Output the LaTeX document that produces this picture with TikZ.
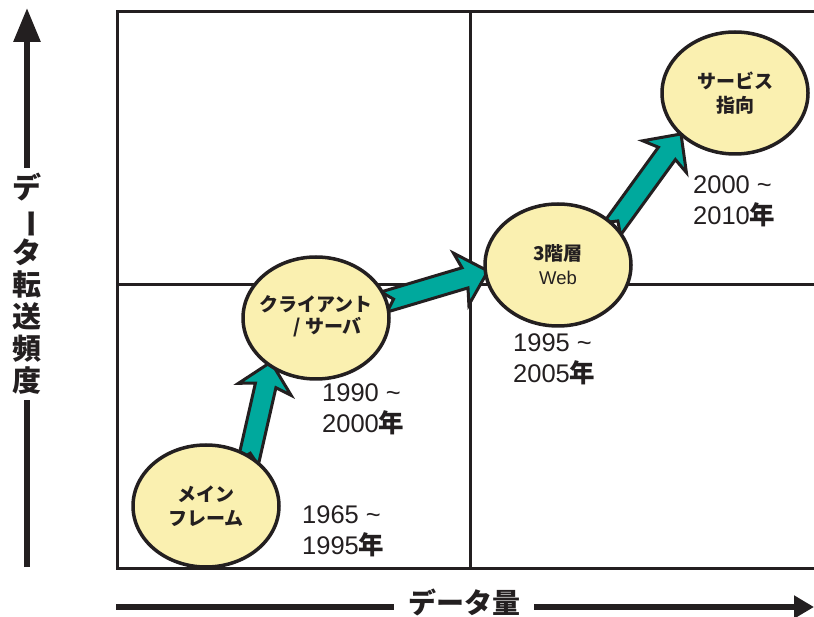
\documentclass[tikz,border=0pt]{standalone}
\usepackage{fontspec}
\usepackage{graphicx}
\setmainfont{Liberation Sans}
\newfontfamily\jp{Noto Sans CJK JP}
\usetikzlibrary{calc,shapes.geometric,arrows.meta}
\definecolor{tealfill}{RGB}{0,169,157}
\definecolor{ellfill}{RGB}{250,240,176}
\definecolor{ink}{RGB}{35,31,32}
\tikzset{
  ell/.style={ellipse, draw=ink, line width=3.5pt, fill=ellfill, minimum width=146pt, minimum height=122pt, inner sep=-14pt, align=center, font=\jp\bfseries\fontsize{19}{24}\selectfont, text=ink},
  fat/.style={draw=ink, line width=3pt, fill=tealfill, line join=miter},
  yr/.style={anchor=north west, align=left, inner sep=0pt, font=\fontsize{25.5}{31}\selectfont, text=ink},
  gridline/.style={draw=ink, line width=3pt},
  axisline/.style={draw=ink, line width=6pt},
  axlabel/.style={font=\jp\bfseries\fontsize{29}{32}\selectfont, text=ink, fill=white, align=center}
}
\def\sw{10.5pt}\def\hw{27pt}\def\hl{28pt}\def\nk{24pt}\def\nd{10pt}
\newcommand\fatarr[2]{%
  \filldraw[fat] ($(#1)!\sw!90:(#2)$) -- ($(#2)!\nk!(#1)!\sw!-90:(#1)$) -- ($(#2)!\hl!(#1)!\hw!-90:(#1)$) -- (#2)
    -- ($(#2)!\hl!(#1)!\hw!90:(#1)$) -- ($(#2)!\nk!(#1)!\sw!90:(#1)$) -- ($(#1)!\sw!-90:(#2)$) -- ($(#1)!\nd!(#2)$) -- cycle;}
\newcommand\yrsym{\jp\bfseries 年}
\begin{document}
\begin{tikzpicture}[x=1pt,y=-1pt]
\useasboundingbox (0,0) rectangle (814,617);
% grid
\coordinate (tl) at (117,12);
\coordinate (tr) at (814,12);
\coordinate (bl) at (117,568);
\coordinate (br) at (814,568);
\coordinate (mt) at (470,12);
\coordinate (mb) at (470,568);
\coordinate (ml) at (117,285);
\coordinate (mr) at (814,285);
\draw[gridline] (tr) -- (tl) -- (bl) -- (br);
\draw[gridline] (mt) -- (mb);
\draw[gridline] (ml) -- (mr);
% axes
\coordinate (yb) at (27,567);
\coordinate (yt) at (27,8);
\draw[axisline,-{Triangle[length=34pt,width=26pt]}] (yb) -- (yt);
\node[axlabel, inner xsep=2pt, inner ysep=5pt] (ylab) at (27,284) {デ\\\rotatebox[origin=c]{-90}{ー}\\タ\\転\\送\\頻\\度};
\coordinate (xl) at (116,607);
\coordinate (xr) at (814,607);
\draw[axisline,-{Triangle[length=20pt,width=22pt]}] (xl) -- (xr);
\node[axlabel, font=\jp\bfseries\fontsize{28}{32}\selectfont, inner xsep=14pt, inner ysep=0pt] (xlab) at (464,602) {データ量};
% arrows (connectors)
\coordinate (a1s) at (248,463);
\coordinate (a1e) at (271,362);
\coordinate (a2s) at (384,302);
\coordinate (a2e) at (488,271);
\coordinate (a3s) at (612,229);
\coordinate (a3e) at (681,134);
\fatarr{a1s}{a1e}
\fatarr{a2s}{a2e}
\fatarr{a3s}{a3e}
% ellipses
\node[ell] (mf) at (206,506) {メイン\\フレーム};
\node[ell] (cs) at (316,318) {\begin{tabular}{@{}l@{}}クライアント\\[-2pt]\hspace*{34pt}/ サーバ\end{tabular}};
\node[ell] (web) at (558,265) {3階層\\{\normalfont\fontsize{18.5}{24}\selectfont Web}};
\node[ell] (soa) at (735,93) {サービス\\指向};
% year labels
\node[yr] (y1) at (302,505) {1965 \symbol{126}\\1995\yrsym};
\node[yr] (y2) at (322,383) {1990 \symbol{126}\\2000\yrsym};
\node[yr] (y3) at (513,333) {1995 \symbol{126}\\2005\yrsym};
\node[yr] (y4) at (693,175) {2000 \symbol{126}\\2010\yrsym};
\end{tikzpicture}
\end{document}
